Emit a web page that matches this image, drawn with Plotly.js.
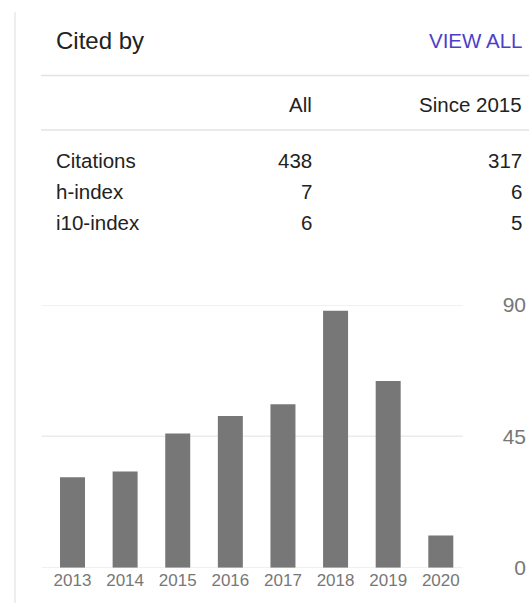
<!DOCTYPE html>
<html>
<head>
<meta charset="utf-8">
<script src="https://cdn.plot.ly/plotly-3.0.1.min.js"></script>
<style>
  html, body { margin: 0; padding: 0; background: #fff; }
  #chart { width: 529px; height: 603px; }
</style>
</head>
<body>
<div id="chart"></div>
<script>
// ---- data ----
const years = ['2013', '2014', '2015', '2016', '2017', '2018', '2019', '2020'];
const citationsPerYear = [31, 33, 46, 52, 56, 88, 64, 11];
const yTicks = [0, 45, 90];

const headerTitle = 'Cited by';
const headerLink = 'VIEW ALL';
const columnHeaders = ['All', 'Since 2015'];
const rowLabels = ['Citations', 'h-index', 'i10-index'];
const allValues = [438, 7, 6];
const sinceValues = [317, 6, 5];

// ---- layout helpers (pixel -> paper, margins are zero) ----
const W = 529, H = 603;
const px = x => x / W;
const py = y => 1 - y / H;
const FONT = 'Arial, "Liberation Sans", Helvetica, sans-serif';
const TXT = '#222222';

const annotations = [];
function addText(text, x, y, anchor, size, color) {
  annotations.push({
    text: text, xref: 'paper', yref: 'paper', x: px(x), y: py(y),
    xanchor: anchor, yanchor: 'middle', showarrow: false,
    font: { family: FONT, size: size, color: color }
  });
}

addText(headerTitle, 54, 40, 'left', 24, TXT);
addText(headerLink, 524, 40, 'right', 20.5, '#4c3fc9');
addText(columnHeaders[0], 314, 104, 'right', 20.5, TXT);
addText(columnHeaders[1], 524, 104, 'right', 20.5, TXT);

const rowY = [160, 191.5, 222.5];
rowLabels.forEach((lab, i) => {
  addText(lab, 54, rowY[i], 'left', 20.5, TXT);
  addText(String(allValues[i]), 314, rowY[i], 'right', 20.5, TXT);
  addText(String(sinceValues[i]), 524, rowY[i], 'right', 20.5, TXT);
});

const shapes = [
  { type: 'line', xref: 'paper', yref: 'paper', x0: px(15), x1: px(15), y0: py(12), y1: py(603),
    line: { color: '#e8e8e8', width: 1.5 } },
  { type: 'line', xref: 'paper', yref: 'paper', x0: px(41), x1: px(529), y0: py(75.5), y1: py(75.5),
    line: { color: '#e3e3e3', width: 1.5 } },
  { type: 'line', xref: 'paper', yref: 'paper', x0: px(41), x1: px(529), y0: py(130), y1: py(130),
    line: { color: '#e3e3e3', width: 1.5 } }
];
// horizontal grid lines at the tick values (span slightly left of the bar area)
yTicks.forEach(v => {
  shapes.push({ type: 'line', layer: 'below', xref: 'paper', yref: 'y',
    x0: px(41.7), x1: px(462.7), y0: v, y1: v,
    line: { color: '#ebebeb', width: 1.5 } });
});

const trace = {
  type: 'bar',
  x: years,
  y: citationsPerYear,
  marker: { color: '#777777', line: { width: 0 } },
  hoverinfo: 'x+y'
};

const layout = {
  width: W, height: H,
  margin: { l: 0, r: 0, t: 0, b: 0, pad: 0 },
  paper_bgcolor: '#ffffff',
  plot_bgcolor: 'rgba(0,0,0,0)',
  showlegend: false,
  bargap: 0.525,
  font: { family: FONT, color: '#777777' },
  xaxis: {
    domain: [px(46.2), px(467.1)],
    type: 'category',
    showgrid: false, zeroline: false, showline: false,
    ticks: '',
    tickfont: { family: FONT, size: 17, color: '#777777' },
    fixedrange: true
  },
  yaxis: {
    domain: [py(567.7), py(305)],
    range: [0, 90],
    tickvals: yTicks,
    ticktext: yTicks.map(String),
    anchor: 'free',
    position: px(526),
    side: 'left',
    showgrid: false,
    zeroline: false, showline: false, ticks: '',
    tickfont: { family: FONT, size: 21, color: '#777777' },
    fixedrange: true
  },
  annotations: annotations,
  shapes: shapes
};

Plotly.newPlot('chart', [trace], layout, { displayModeBar: false, staticPlot: true });
</script>
</body>
</html>
